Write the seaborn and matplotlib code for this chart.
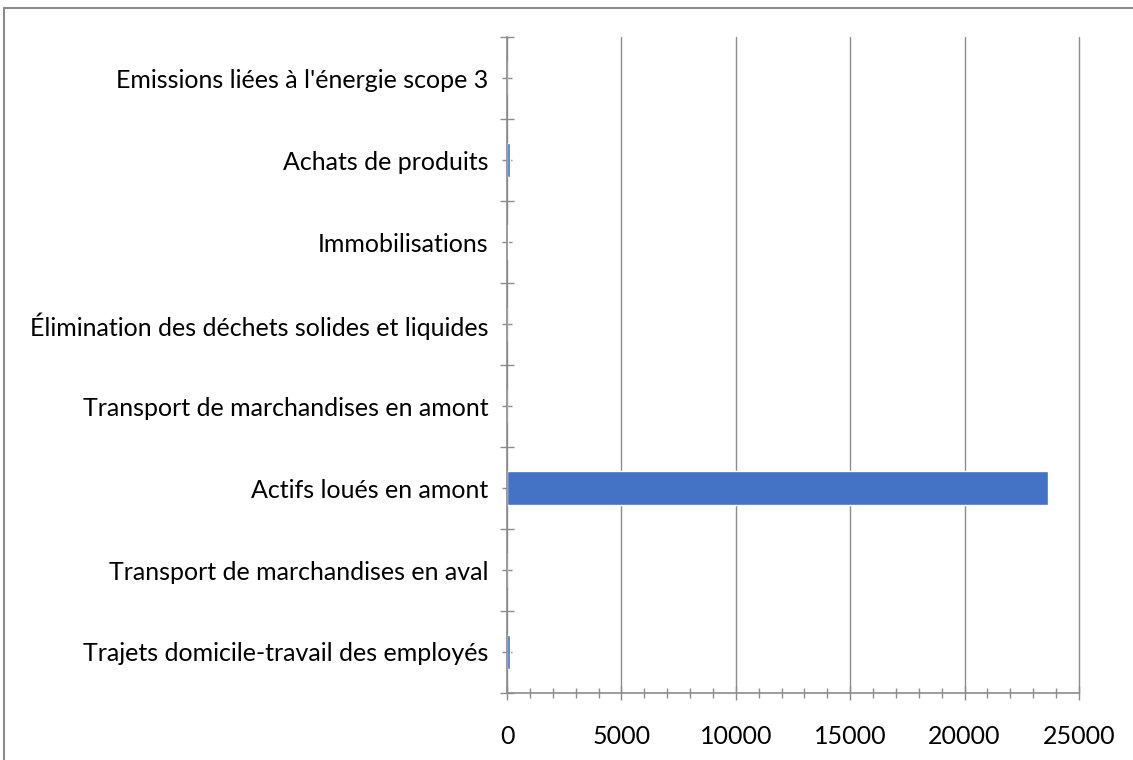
import matplotlib
matplotlib.use("Agg")
import matplotlib.pyplot as plt
import matplotlib.patches as patches
from matplotlib.ticker import MultipleLocator
import pandas as pd
import seaborn as sns

# Chart data
categories = [
    "Emissions liées à l'énergie scope 3",
    "Achats de produits",
    "Immobilisations",
    "Élimination des déchets solides et liquides",
    "Transport de marchandises en amont",
    "Actifs loués en amont",
    "Transport de marchandises en aval",
    "Trajets domicile-travail des employés",
]
values = [10, 120, 40, 5, 10, 23640, 10, 120]
x_ticks = [0, 5000, 10000, 15000, 20000, 25000]

df = pd.DataFrame({"Catégorie": categories, "Valeur": values})

sns.set_style("white")
plt.rcParams["font.family"] = ["Lato", "DejaVu Sans"]

fig = plt.figure(figsize=(11.33, 7.6), dpi=100)
ax = fig.add_axes([0.4475, 0.0882, 0.5048, 0.8628])

sns.barplot(data=df, x="Valeur", y="Catégorie", orient="h", color="#4472C4",
            saturation=1, width=0.41, ax=ax)

grey = "#8C8C8C"
ax.set_xlim(0, 25000)
ax.set_ylim(len(categories) - 0.5, -0.5)
ax.set_xticks(x_ticks)
ax.set_xticklabels([str(t) for t in x_ticks])
ax.xaxis.set_minor_locator(MultipleLocator(1000))
ax.set_xlabel("")
ax.set_ylabel("")

# y ticks: labels at category centres, crossing ticks at the boundaries
ax.set_yticks(range(len(categories)))
ax.set_yticklabels(categories)
ax.set_yticks([i - 0.5 for i in range(len(categories) + 1)], minor=True)

ax.tick_params(which="both", bottom=True, left=True)
ax.tick_params(axis="x", which="major", direction="inout", length=10, width=1,
               color=grey, labelsize=18, pad=18, labelcolor="black")
ax.tick_params(axis="x", which="minor", direction="inout", length=7, width=1, color=grey)
ax.tick_params(axis="y", which="major", direction="inout", length=7, width=1,
               color=grey, labelsize=18, pad=10, labelcolor="black")
ax.tick_params(axis="y", which="minor", direction="inout", length=10, width=1, color=grey)

ax.grid(axis="x", which="major", color=grey, linewidth=1)
for gl in ax.get_xgridlines():
    gl.set_clip_on(False)
ax.set_axisbelow(True)
for side in ["top", "right"]:
    ax.spines[side].set_visible(False)
for side in ["left", "bottom"]:
    ax.spines[side].set_color(grey)
    ax.spines[side].set_linewidth(1.2)

# outer chart border
fig.patches.append(patches.Rectangle((4 / 1133, -0.1), 1.2, 1 - 8 / 760 + 0.1,
                                     transform=fig.transFigure, fill=False,
                                     edgecolor="#8C8C8C", linewidth=1.5))

fig.savefig("out.png", dpi=100)
